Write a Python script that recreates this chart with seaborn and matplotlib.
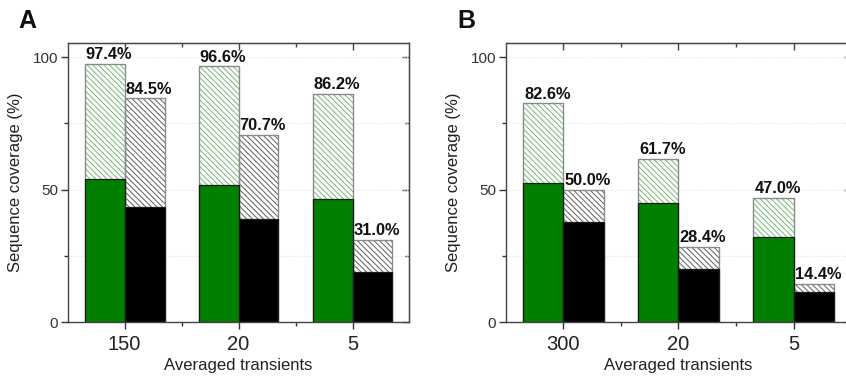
import matplotlib
matplotlib.use("Agg")
import matplotlib.pyplot as plt
from matplotlib.ticker import FixedLocator, NullFormatter
import seaborn as sns
import pandas as pd

# ---- data ----
series = ["green", "black"]
cats_A = ["150", "20", "5"]
total_green_A = [97.4, 96.6, 86.2]
total_black_A = [84.5, 70.7, 31.0]
solid_green_A = [54.2, 51.7, 46.3]
solid_black_A = [43.3, 39.1, 19.0]

cats_B = ["300", "20", "5"]
total_green_B = [82.6, 61.7, 47.0]
total_black_B = [50.0, 28.4, 14.4]
solid_green_B = [52.6, 44.8, 32.1]
solid_black_B = [37.8, 20.2, 11.3]

GREEN = "#007f00"
BLACK = "#000000"
HATCH_G = "#74b874"
HATCH_K = "#5e5e5e"
OUTLINE = "#8a8a8a"

sns.set_style("ticks")
plt.rcParams["font.family"] = ["Liberation Sans", "DejaVu Sans"]
plt.rcParams["hatch.linewidth"] = 0.7


def frame(cats, g, k):
    return pd.DataFrame({
        "transients": list(cats) * 2,
        "series": [series[0]] * len(cats) + [series[1]] * len(cats),
        "coverage": list(g) + list(k),
    })


def panel(ax, cats, tg, tk, sg, sk, letter, letter_x):
    df_tot = frame(cats, tg, tk)
    df_sol = frame(cats, sg, sk)

    # hatched part (total coverage)
    n0 = len(ax.containers)
    sns.barplot(data=df_tot, x="transients", y="coverage", hue="series",
                order=cats, hue_order=series, palette=["white", "white"],
                width=0.7, saturation=1, errorbar=None, legend=False, ax=ax)
    tot_conts = ax.containers[n0:]
    for cont, hc in zip(tot_conts, [HATCH_G, HATCH_K]):
        for p in cont:
            p.set_hatch("\\" * 6)
            p.set_edgecolor(hc)
            p.set_linewidth(0)
    # outline of total bars
    sns.barplot(data=df_tot, x="transients", y="coverage", hue="series",
                order=cats, hue_order=series, palette=[OUTLINE, OUTLINE],
                fill=False, linewidth=1.0, width=0.7, saturation=1,
                errorbar=None, legend=False, ax=ax)
    # solid part
    sns.barplot(data=df_sol, x="transients", y="coverage", hue="series",
                order=cats, hue_order=series, palette=[GREEN, BLACK],
                edgecolor="#1a1a1a", linewidth=0.9, width=0.7, saturation=1,
                errorbar=None, legend=False, ax=ax)

    # labels
    for cont, vals in zip(tot_conts, [tg, tk]):
        for bar, v in zip(cont, vals):
            ax.annotate(f"{v:.1f}%", (bar.get_x() + bar.get_width() / 2, bar.get_height()),
                        xytext=(3, 1.2), textcoords="offset points",
                        ha="center", va="bottom", fontsize=11.8, fontweight="bold",
                        color="#111111")

    ax.set_xlim(-0.5, 2.5)
    ax.set_ylim(0, 105.4)
    ax.yaxis.set_major_locator(FixedLocator([0, 50, 100]))
    ax.yaxis.set_minor_locator(FixedLocator([25, 75]))
    ax.xaxis.set_minor_locator(FixedLocator([0.5, 1.5]))
    ax.grid(axis="y", which="both", color="#e2e2e2", linestyle=":", linewidth=0.8)
    ax.set_axisbelow(True)

    ax.tick_params(axis="x", which="major", direction="out", length=5, width=1,
                   labelsize=14.5, pad=4, colors="#333333", labelcolor="#222222")
    ax.tick_params(axis="x", which="minor", direction="out", length=3, width=1,
                   colors="#333333")
    ax.tick_params(axis="y", which="major", direction="out", length=5, width=1,
                   labelsize=11, pad=2, colors="#333333", labelcolor="#333333")
    ax.tick_params(axis="y", which="minor", direction="out", length=3, width=1,
                   colors="#333333")

    for s in ax.spines.values():
        s.set_visible(True)
        s.set_color("#444444")
        s.set_linewidth(1.0)

    top = ax.secondary_xaxis("top")
    top.xaxis.set_major_locator(FixedLocator([0, 1, 2]))
    top.xaxis.set_minor_locator(FixedLocator([0.5, 1.5]))
    top.xaxis.set_major_formatter(NullFormatter())
    top.tick_params(which="major", direction="in", length=5, width=1, colors="#444444")
    top.tick_params(which="minor", direction="in", length=3, width=1, colors="#444444")
    top.spines["top"].set_color("#444444")

    right = ax.secondary_yaxis("right")
    right.yaxis.set_major_locator(FixedLocator([0, 50, 100]))
    right.yaxis.set_minor_locator(FixedLocator([25, 75]))
    right.yaxis.set_major_formatter(NullFormatter())
    right.tick_params(which="major", direction="in", length=5, width=1, colors="#444444")
    right.tick_params(which="minor", direction="in", length=3, width=1, colors="#444444")
    right.spines["right"].set_color("#444444")

    ax.set_xlabel("Averaged transients", fontsize=12, color="#222222", labelpad=3)
    ax.set_ylabel("Sequence coverage (%)", fontsize=12, color="#222222", labelpad=7)

    ax.figure.text(letter_x, 0.945, letter, fontsize=18, fontweight="bold",
                   ha="left", va="center", color="#111111")


fig = plt.figure(figsize=(8.46, 3.83), dpi=100)
ax1 = fig.add_axes([0.080, 0.159, 0.404, 0.729])
ax2 = fig.add_axes([0.598, 0.159, 0.408, 0.729])

panel(ax1, cats_A, total_green_A, total_black_A, solid_green_A, solid_black_A, "A", 0.022)
panel(ax2, cats_B, total_green_B, total_black_B, solid_green_B, solid_black_B, "B", 0.541)

fig.savefig("out.png", dpi=100)
